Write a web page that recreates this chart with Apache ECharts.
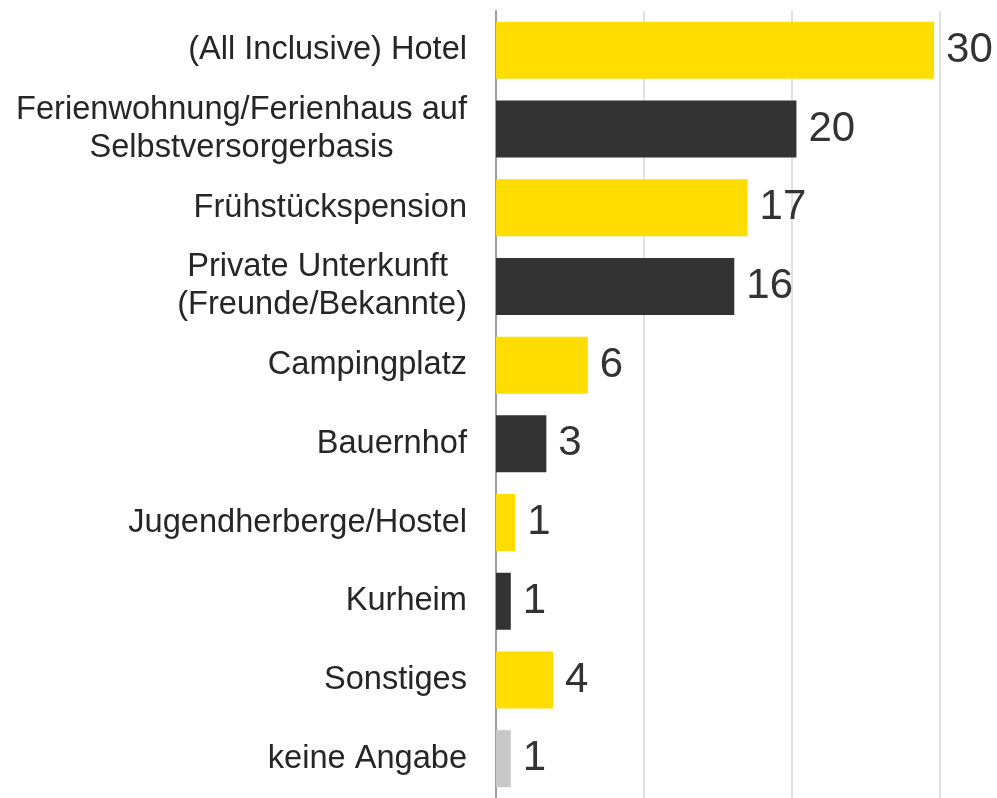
<!DOCTYPE html>
<html>
<head>
<meta charset="utf-8">
<script src="https://cdn.jsdelivr.net/npm/echarts@6/dist/echarts.min.js"></script>
<style>
  html, body { margin: 0; padding: 0; background: #fff; }
  #chart { width: 997px; height: 798px; }
</style>
</head>
<body>
<div id="chart"></div>
<script>
// Kategorien (von oben nach unten)
const categories = [
  "(All Inclusive) Hotel",
  "Ferienwohnung/Ferienhaus auf\nSelbstversorgerbasis",
  "Frühstückspension",
  "Private Unterkunft \n(Freunde/Bekannte)",
  "Campingplatz",
  "Bauernhof",
  "Jugendherberge/Hostel",
  "Kurheim",
  "Sonstiges",
  "keine Angabe"
];
// Balkenlängen (aus dem Bild geschätzt) und angezeigte Werte
const values = [29.6, 20.3, 17.0, 16.1, 6.2, 3.4, 1.3, 1.0, 3.85, 1.0];
const shownValues = [30, 20, 17, 16, 6, 3, 1, 1, 4, 1];
const barColors = ["#FFDD00", "#333333", "#FFDD00", "#333333", "#FFDD00",
                   "#333333", "#FFDD00", "#333333", "#FFDD00", "#C8C8C8"];

const FONT = "'Liberation Sans', Arial, sans-serif";

const chart = echarts.init(document.getElementById("chart"));
const option = {
  animation: false,
  backgroundColor: "#fff",
  grid: {
    left: 496,
    right: 57,
    top: 11,
    height: 792,
    containLabel: false
  },
  xAxis: {
    type: "value",
    min: 0,
    max: 30,
    interval: 10,
    axisLabel: { show: false },
    axisTick: { show: false },
    axisLine: { show: false },
    splitLine: {
      show: true,
      lineStyle: { color: "#d9d9d9", width: 1.5 }
    }
  },
  yAxis: {
    type: "category",
    inverse: true,
    data: categories,
    axisTick: { show: false },
    axisLine: {
      show: true,
      lineStyle: { color: "#9e9e9e", width: 2 }
    },
    axisLabel: {
      margin: 29,
      align: "right",
      fontFamily: FONT,
      fontSize: 32.6,
      lineHeight: 38,
      color: "#262626",
      formatter: function (value) {
        // jede Zeile zentriert im Block
        return value.split("\n").map(l => "{c|" + l + "}").join("\n");
      },
      rich: {
        c: {
          align: "center",
          fontFamily: FONT,
          fontSize: 32.6,
          lineHeight: 38,
          color: "#262626"
        }
      }
    }
  },
  series: [
    {
      type: "bar",
      barWidth: 57,
      data: values.map((v, i) => ({
        value: v,
        itemStyle: { color: barColors[i] }
      })),
      label: {
        show: true,
        position: "right",
        distance: 12,
        fontFamily: FONT,
        fontSize: 42,
        color: "#333333",
        formatter: p => shownValues[p.dataIndex]
      }
    }
  ]
};
chart.setOption(option);
</script>
</body>
</html>
